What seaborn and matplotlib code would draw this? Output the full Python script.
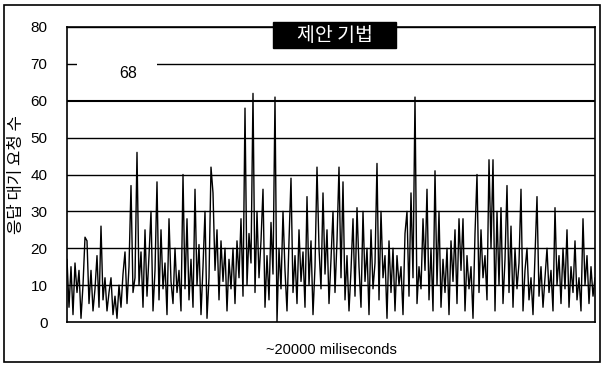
import numpy as np
import pandas as pd
import matplotlib
matplotlib.use("Agg")
import matplotlib.pyplot as plt
from matplotlib.patches import Rectangle
import seaborn as sns

# 응답 대기 요청 수, 대략 2px 간격으로 그림에서 읽은 값 (~20000 ms 구간)
waiting = [
    17, 4, 15, 2, 16, 8, 14, 1, 10, 23,
    22, 5, 14, 3, 9, 18, 4, 26, 6, 12,
    3, 8, 12, 2, 7, 1, 10, 4, 13, 19,
    5, 15, 37, 8, 12, 46, 10, 19, 4, 25,
    7, 18, 30, 3, 14, 38, 6, 25, 9, 16,
    2, 28, 11, 5, 20, 8, 14, 3, 40, 9,
    28, 6, 17, 4, 36, 10, 21, 2, 15, 30,
    1, 12, 42, 35, 14, 25, 6, 22, 11, 20,
    3, 17, 9, 20, 5, 22, 12, 28, 7, 58,
    10, 24, 16, 62, 8, 30, 12, 22, 36, 4,
    18, 6, 27, 13, 61, 0, 20, 9, 30, 14,
    3, 22, 39, 8, 18, 5, 25, 11, 19, 4,
    34, 10, 22, 2, 15, 42, 20, 9, 35, 13,
    25, 5, 17, 30, 8, 22, 42, 12, 38, 6,
    18, 3, 14, 28, 7, 31, 15, 4, 30, 11,
    20, 2, 25, 9, 16, 43, 6, 30, 12, 18,
    1, 22, 8, 20, 3, 18, 10, 15, 2, 24,
    30, 7, 35, 12, 61, 5, 15, 9, 28, 14,
    36, 6, 20, 3, 41, 10, 30, 4, 17, 8,
    20, 2, 22, 11, 25, 5, 28, 14, 28, 3,
    18, 9, 15, 1, 24, 40, 8, 25, 12, 18,
    6, 44, 20, 44, 3, 30, 10, 31, 5, 17,
    37, 8, 26, 4, 20, 9, 16, 36, 3, 14,
    20, 6, 12, 2, 18, 34, 7, 15, 4, 12,
    20, 8, 14, 3, 31, 10, 18, 5, 20, 9,
    25, 4, 15, 8, 22, 6, 12, 3, 28, 10,
    18, 5, 15, 7, 12,
]
yticks = [0, 10, 20, 30, 40, 50, 60, 70, 80]
peak_label = "68"
title_text = "제안 기법"
xlabel_text = "~20000 miliseconds"
ylabel_text = "응답 대기 요청 수"

df = pd.DataFrame({"t": np.arange(len(waiting)), "n": waiting})

sns.set_theme(style="white")
plt.rcParams["font.family"] = ["Noto Sans CJK KR", "DejaVu Sans"]

W, H = 604, 367
fig = plt.figure(figsize=(W / 100, H / 100), dpi=100)
ax = fig.add_axes([67 / W, 45 / H, 528 / W, 295 / H])

sns.lineplot(data=df, x="t", y="n", ax=ax, color="black", linewidth=1.0,
             estimator=None, zorder=3)

ax.set_xlim(0, len(waiting) - 1)
ax.set_ylim(0, 80)
ax.set_yticks(yticks)
ax.set_xticks([])
ax.tick_params(axis="y", labelsize=11, length=0, pad=14, colors="black")
for t in ax.get_yticklabels():
    t.set_fontfamily(["Liberation Sans", "DejaVu Sans"])
for y in yticks[1:]:
    ax.axhline(y, color="black", linewidth=1.0 if y != 60 else 1.5, zorder=1)
for s in ax.spines.values():
    s.set_color("black")
    s.set_linewidth(1.2)

ax.set_xlabel(xlabel_text, fontsize=10.5, color="black", labelpad=15,
              fontfamily=["Liberation Sans", "DejaVu Sans"])
ax.set_ylabel(ylabel_text, fontsize=12, color="black")
ax.yaxis.set_label_coords(-42 / 528, 0.5)

# 68 주변 격자선 끊김
fig.patches.append(Rectangle((77 / W, (367 - 67) / H), 80 / W, 6 / H,
                             transform=fig.transFigure, fc="white",
                             ec="none", zorder=2))
fig.text(128 / W, (367 - 73) / H, peak_label, ha="center", va="center",
         fontsize=11.5, color="black",
         fontfamily=["Liberation Sans", "DejaVu Sans"], zorder=4)

# 제목 상자
fig.patches.append(Rectangle((273 / W, (367 - 48) / H), 123 / W, 26 / H,
                             transform=fig.transFigure, fc="black",
                             ec="black", zorder=5))
fig.text(334.5 / W, (367 - 35.5) / H, title_text, ha="center", va="center",
         fontsize=14, color="white", zorder=6)

# 바깥 테두리
fig.patches.append(Rectangle((4 / W, 5 / H), 596 / W, 357 / H,
                             transform=fig.transFigure, fill=False,
                             ec="black", lw=1.2))

fig.savefig("out.png", dpi=100)
